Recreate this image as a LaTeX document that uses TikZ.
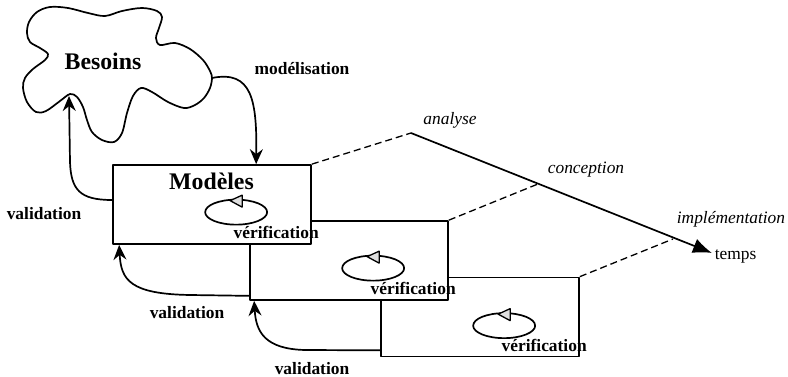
\documentclass[tikz,border=0pt]{standalone}
\usepackage{fontspec}
\setmainfont{Liberation Serif}
\usetikzlibrary{arrows.meta,calc}

\tikzset{
  lbl/.style={font=\fontsize{17.4}{20}\selectfont\bfseries, inner sep=0pt, anchor=base},
  phase/.style={font=\fontsize{17.4}{20}\selectfont\itshape, inner sep=0pt, anchor=base},
  plain/.style={font=\fontsize{17.4}{20}\selectfont, inner sep=0pt, anchor=base west},
  title/.style={font=\fontsize{23.8}{28}\selectfont\bfseries, inner sep=0pt, anchor=base},
  stage/.style={draw, fill=white, rectangle, minimum width=198pt, minimum height=79pt, inner sep=0pt},
  flow/.style={-{Stealth[length=15pt,width=13pt,inset=5pt]}},
  guide/.style={dash pattern=on 7pt off 4pt, line width=1.3pt},
  verif/.pic={
    \draw (0,0) ellipse [x radius=31pt, y radius=12.5pt];
    \draw[fill=gray!25, line width=1.3pt] (-6,-11.5) -- (6,-17) -- (6,-5) -- cycle;
    \node[lbl] at (40,26) {vérification};
  },
}

\begin{document}
\begin{tikzpicture}[x=1pt, y=-1pt, line width=1.7pt, line join=round]
\useasboundingbox (0,0) rectangle (788,377);

% the requirements cloud
\draw plot[smooth cycle, tension=0.55] coordinates {
  (25,78) (33,69) (45,60) (48,54) (40,48) (30,42) (27,33) (29,22) (37,12)
  (50,7) (68,8) (88,13) (105,16) (122,11) (142,8) (157,11) (162,17) (159,28)
  (156,38) (160,45) (175,43) (190,49) (203,60) (210,71) (212,78) (210,88)
  (204,98) (195,105) (184,108) (168,102) (152,92) (141,88) (133,96) (127,113)
  (122,133) (114,142) (102,140) (92,132) (87,120) (83,107) (77,97) (70,94)
  (60,101) (46,111) (36,112) (27,102) (23,88)};
\coordinate (cloudright) at (212,78);
\coordinate (cloudpeak) at (69,96);
\node[title] (besoins) at (103,70) {Besoins};

% the three model stages, back to front
\node[stage] (m3) at (480,317) {};
\pic at ($(m3.north west)+(124,49)$) {verif};
\node[stage] (m2) at (349,260.5) {};
\pic at ($(m2.north west)+(124,48)$) {verif};
\node[stage] (m1) at (212,204.5) {};
\pic at ($(m1.north west)+(124,48)$) {verif};
\node[title] (modeles) at (211.5,190) {Modèles};

% time axis with its phases
\coordinate (ana) at (411,133);
\coordinate (con) at (538,184);
\coordinate (imp) at (673,239);
\coordinate (tend) at (712,253);
\draw[-{Latex[length=19pt,width=15pt]}] (ana) -- (tend);
\draw[guide] (m1.north east) -- (ana);
\draw[guide] (m2.north east) -- (con);
\draw[guide] (m3.north east) -- (imp);
\node[phase] (tana) at (450,125) {analyse};
\node[phase] (tcon) at (586,174) {conception};
\node[phase] (timp) at (731,224) {implémentation};
\node[plain] (ttemps) at (714,259) {temps};

% modelling and validation flows
\draw[flow] (cloudright) .. controls (252,70) and (257,100) .. ([xshift=144pt]m1.north west);
\node[lbl] (tmod) at (302,75) {modélisation};

\draw[flow] ([yshift=4.5pt]m1.west) .. controls (80,200) and (71,190) .. (70,162) -- (cloudpeak);
\node[lbl] (tval1) at (44,219) {validation};

\draw[flow] ([yshift=5pt]m2.south west) -- (190,295) .. controls (130,294) and (121,280) .. ([xshift=7pt]m1.south west);
\node[lbl] (tval2) at (187,318) {validation};

\draw[flow] ([yshift=7pt]m3.south west) -- (305,350) .. controls (265,349) and (256,332) .. ([xshift=5pt]m2.south west);
\node[lbl] (tval3) at (312,374) {validation};
\end{tikzpicture}
\end{document}
